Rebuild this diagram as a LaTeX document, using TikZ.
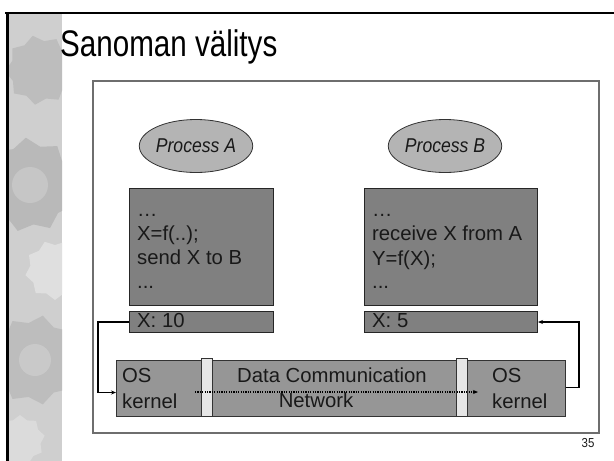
\documentclass[tikz,border=0pt]{standalone}
\usepackage{fontspec}
\setmainfont{Liberation Sans}
\newfontfamily\titlefont[FakeStretch=0.8]{Liberation Sans}
\newfontfamily\bodyfont{Liberation Sans}
\newfontfamily\procfont[FakeStretch=0.88]{Liberation Sans}
\usetikzlibrary{shapes.geometric,arrows.meta}
\definecolor{boxgray}{RGB}{128,128,128}
\definecolor{bargray}{RGB}{150,150,150}
\definecolor{ellgray}{RGB}{180,180,180}
\definecolor{divgray}{RGB}{230,230,230}
\definecolor{txt}{RGB}{25,25,25}
\definecolor{framegray}{RGB}{110,110,110}
\tikzset{
  procbox/.style={draw=black!85, line width=1pt, fill=boxgray, inner sep=0pt, anchor=north west},
  barbox/.style={draw=black!80, line width=1pt, fill=bargray, inner sep=0pt, anchor=north west},
  divbox/.style={draw=black!80, line width=0.8pt, fill=divgray, inner sep=0pt, anchor=north west},
  proc/.style={ellipse, draw=black!80, line width=0.8pt, fill=ellgray, minimum width=103pt, minimum height=53pt, inner sep=0pt, font=\procfont\itshape\fontsize{20}{22}\selectfont, text=txt},
  code/.style={anchor=base west, inner sep=0pt, font=\bodyfont\fontsize{20.3}{22}\selectfont, text=txt},
  conn/.style={draw=black, line width=1.2pt, -{Stealth[length=5pt,width=4pt]}},
  gear/.style={star, star points=9, star point ratio=1.2, inner sep=0pt, draw=none}
}
\begin{document}
\begin{tikzpicture}[x=1pt,y=-1pt]
\useasboundingbox (0,0) rectangle (614,461);
\fill[white] (0,0) rectangle (614,461);
% textured strip
\begin{scope}
\clip (9,14) rectangle (62,461);
\fill[gray!38] (9,14) rectangle (62,461);
\node[gear, fill=gray!52, minimum size=70pt, rotate=12] (g1) at (40,70) {};
\node[gear, fill=gray!55, minimum size=95pt, rotate=5] (g2) at (30,185) {};
\node[gear, fill=gray!25, minimum size=60pt, rotate=20] (g3) at (55,270) {};
\node[gear, fill=gray!52, minimum size=90pt, rotate=30] (g4) at (35,360) {};
\node[gear, fill=gray!28, minimum size=50pt] (g5) at (20,440) {};
\fill[gray!45] (30,185) circle (18);
\fill[gray!42] (35,360) circle (16);
\end{scope}
% frame lines
\draw[black, line width=2.5pt] (5,13) -- (614,13);
\draw[black, line width=2.5pt] (7.5,12) -- (7.5,461);
% title
\node[anchor=base west, inner sep=0pt, font=\titlefont\fontsize{37}{40}\selectfont] (title) at (60,56) {Sanoman välitys};
% inner frame
\draw[framegray, line width=1.5pt] (93,81) rectangle (599,433);
% processes
\node[proc] (pa) at (196,146) {Process A};
\node[proc] (pb) at (445,146) {Process B};
% code boxes
\node[procbox, minimum width=144pt, minimum height=117pt] (boxA) at (129,188) {};
\node[procbox, minimum width=173pt, minimum height=117pt] (boxB) at (364,188) {};
\node[code] (a1) at (137,216) {\dots};
\node[code] (a2) at (137,240) {X=f(..);};
\node[code] (a3) at (137,264) {send X to B};
\node[code] (a4) at (137,288) {...};
\node[code] (b1) at (372,216) {\dots};
\node[code] (b2) at (372,240) {receive X from A};
\node[code] (b3) at (372,265) {Y=f(X);};
\node[code] (b4) at (372,288) {...};
% value boxes
\node[procbox, minimum width=144pt, minimum height=21pt] (xA) at (129,311) {};
\node[procbox, minimum width=173pt, minimum height=21pt] (xB) at (364,311) {};
\node[code] (xAt) at (137,327) {X: 10};
\node[code] (xBt) at (372,327) {X: 5};
% bottom bar
\node[barbox, minimum width=449pt, minimum height=56pt] (bar) at (116,360) {};
\node[divbox, minimum width=11pt, minimum height=58pt] (d1) at (201,358) {};
\node[divbox, minimum width=11pt, minimum height=58pt] (d2) at (456,358) {};
\node[code] (os1) at (122,382) {OS};
\node[code] (k1) at (122,408) {kernel};
\node[code] (os2) at (492,382) {OS};
\node[code] (k2) at (492,408) {kernel};
\node[code, anchor=base] (dc) at (332,382) {Data Communication};
\node[code, anchor=base] (nw) at (316,407) {Network};
% dotted arrow
\coordinate (dotS) at (195,392);
\coordinate (dotE) at (478,392);
\draw[black, line width=1.3pt, dash pattern=on 1.2pt off 1.2pt, -{Stealth[length=5pt,width=4pt]}] (dotS) -- (dotE);
% connectors
\draw[conn] (xA.west) -- ++(-31,0) |- ([yshift=-4pt]bar.west);
\draw[conn] ([yshift=1pt]bar.east) -- ++(13,0) |- (xB.east);
% page number
\node[anchor=base, inner sep=0pt, font=\procfont\fontsize{13}{14}\selectfont, text=txt] (pn) at (588,447) {35};
\end{tikzpicture}
\end{document}
